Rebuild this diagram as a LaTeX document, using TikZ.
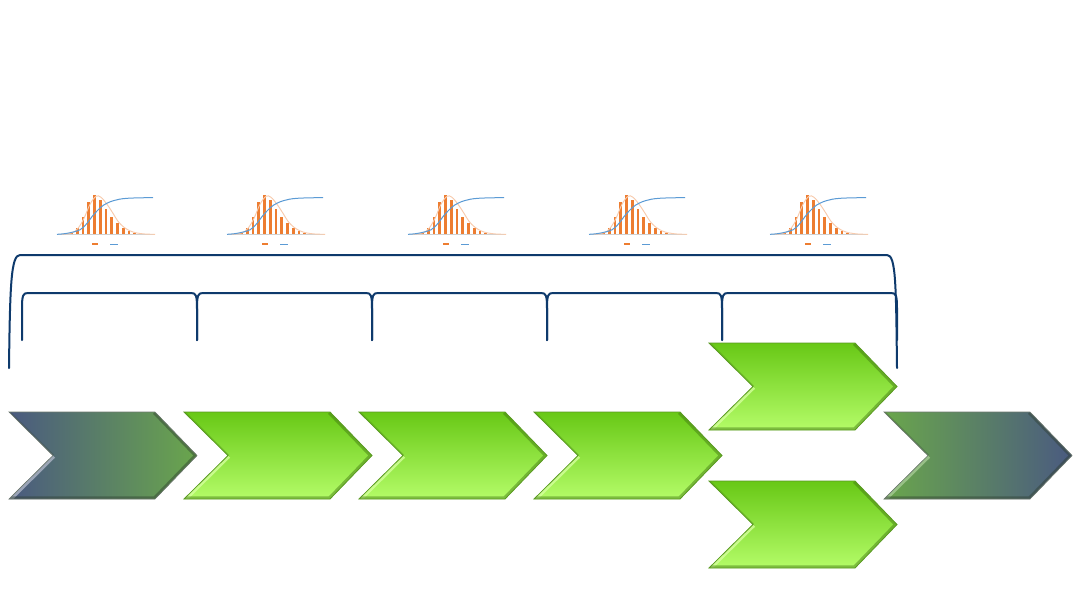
\documentclass[tikz,border=0pt]{standalone}
\definecolor{gtop}{HTML}{68C816}
\definecolor{gmid}{HTML}{8EDE3C}
\definecolor{gbot}{HTML}{B4FC68}
\definecolor{gedge}{HTML}{5A9A22}
\definecolor{gdark}{HTML}{3E7410}
\definecolor{glight}{HTML}{D4FF9C}
\definecolor{slate}{HTML}{4A5A80}
\definecolor{sgreen}{HTML}{6AA64C}
\definecolor{sdark}{HTML}{2E3E30}
\definecolor{brace}{HTML}{0E3A6C}
\definecolor{barc}{HTML}{ED7D31}
\definecolor{cdfc}{HTML}{5B9BD5}
\tikzset{
  bracestyle/.style={draw=brace, line width=1.5pt, line cap=round, line join=round},
  barstyle/.style={fill=barc},
  normstyle/.style={draw=barc!40, line width=0.7pt},
  cdfstyle/.style={draw=cdfc, line width=0.75pt},
  basestyle/.style={draw=black!18, line width=0.8pt},
}
\def\chevron#1#2{(#1,#2) -- ++(146,0) -- ++(42,43.5) -- ++(-42,43.5) -- ++(-146,0) -- ++(44,-43.5) -- cycle}
\newcommand\chevbevel[4]{%
  \begin{scope}
    \clip \chevron{#1}{#2};
    \draw[line width=4.5pt, #3, opacity=0.8] ({#1+44},{#2+43.5}) -- (#1,{#2+87});
    \draw[line width=4pt, #4, opacity=0.45] ({#1+146},#2) -- ({#1+188},{#2+43.5}) -- ({#1+146},{#2+87}) -- (#1,{#2+87});
    \draw[line width=2pt, #4, opacity=0.25] (#1,#2) -- ({#1+44},{#2+43.5});
  \end{scope}}
\newcommand\greenchev[2]{%
  \shade[top color=gtop, middle color=gmid, bottom color=gbot] \chevron{#1}{#2};
  \chevbevel{#1}{#2}{glight}{gdark}
  \draw[gedge, line width=0.6pt, line join=miter] \chevron{#1}{#2};}
\newcommand\histo[1]{%
  \begin{scope}[shift={(#1,234.3)}]
    \draw[basestyle] (0,0) -- (98,0);
    \foreach \h [count=\i from 0] in {2,6,17,32,39,34,25,17,11,6,3,1}
      \fill[barstyle] ({14.5+5.75*\i-1.3},0) rectangle ({14.5+5.75*\i+1.3},-\h);
    \draw[normstyle] plot[smooth, tension=0.6] coordinates {(5,0) (15,-1.5) (21,-6) (27,-16) (33,-30) (39,-38) (44,-37) (50,-30) (56,-21) (61,-13) (67,-7) (73,-3.5) (79,-1.5) (88,-0.3) (98,0)};
    \draw[cdfstyle] plot[smooth, tension=0.6] coordinates {(0,0) (10,-1) (23,-4.5) (30,-11) (35,-17.7) (40,-23.3) (46.7,-29.3) (56.7,-33.7) (70,-36) (96,-36.7)};
    \fill[barc] (34.5,9) rectangle (40.5,10.7);
    \draw[cdfc, line width=0.8pt] (53,10.1) -- (60.5,10.1);
  \end{scope}}
\begin{document}
\begin{tikzpicture}[x=0.75pt,y=-0.75pt]
\useasboundingbox (0,0) rectangle (1080,608);
\fill[white] (0,0) rectangle (1080,608);
% histograms
\foreach \o in {57,227,408,589,770} {\histo{\o}}
% outer brace
\draw[bracestyle] (9,368) .. controls (10,285) and (11,255) .. (20,255) -- (887,255) .. controls (896,255) and (896,285) .. (897,368);
% inner braces
\foreach \a/\b in {22/197,197/372,372/547,547/722,722/897}
  \draw[bracestyle] (\a,340) -- (\a,309) .. controls (\a,295) and (\a+1,293) .. (\a+6,293) -- (\b-6,293) .. controls (\b-1,293) and (\b,295) .. (\b,309) -- (\b,340);
% first chevron
\shade[left color=slate, right color=sgreen] \chevron{9}{412};
\chevbevel{9}{412}{white!55!slate}{sdark}
\draw[sdark!70, line width=0.5pt, line join=miter] \chevron{9}{412};
% green chevrons
\greenchev{184}{412}
\greenchev{359}{412}
\greenchev{534}{412}
\greenchev{709}{343}
\greenchev{709}{481}
% last chevron
\shade[left color=sgreen, right color=slate] \chevron{884}{412};
\chevbevel{884}{412}{white!40!sgreen}{sdark}
\draw[sdark!70, line width=0.5pt, line join=miter] \chevron{884}{412};
\end{tikzpicture}
\end{document}
